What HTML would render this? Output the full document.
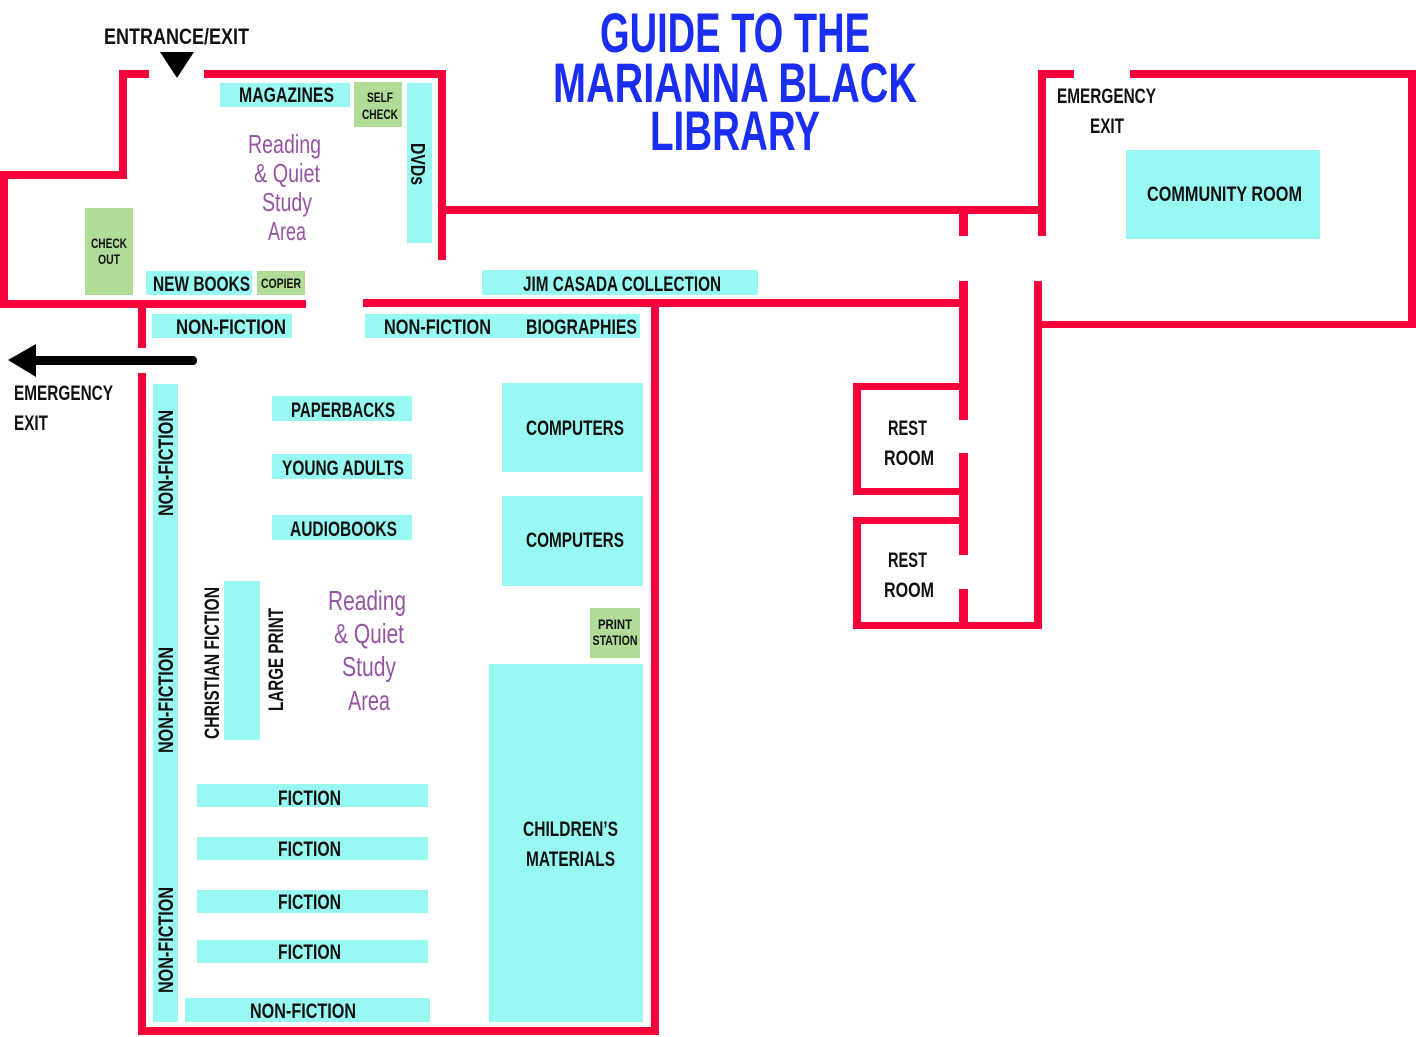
<!DOCTYPE html>
<html><head><meta charset="utf-8"><style>
html,body{margin:0;padding:0;background:#fff;}
svg{display:block;}
text{font-family:"Liberation Sans Narrow","Liberation Sans",sans-serif;font-weight:bold;fill:#111;}
.p{fill:#9456a2;font-weight:normal;}
.t{fill:#1a2df2;}
</style></head><body>
<svg width="1416" height="1037" viewBox="0 0 1416 1037" xmlns="http://www.w3.org/2000/svg">
<g fill="#f5003a">
<rect x="119" y="70" width="30" height="8"/>
<rect x="119" y="70" width="8" height="108"/>
<rect x="0" y="171" width="127" height="8"/>
<rect x="0" y="171" width="8" height="136"/>
<rect x="0" y="300" width="306" height="8"/>
<rect x="204" y="70" width="242" height="8"/>
<rect x="438" y="70" width="8" height="190"/>
<rect x="446" y="206" width="600" height="8"/>
<rect x="959" y="213" width="9" height="23"/>
<rect x="363" y="299" width="605" height="8"/>
<rect x="138" y="300" width="8" height="48"/>
<rect x="138" y="373" width="8" height="662"/>
<rect x="138" y="1027" width="520" height="8"/>
<rect x="651" y="300" width="8" height="735"/>
<rect x="959" y="281" width="9" height="139"/>
<rect x="959" y="453" width="9" height="102"/>
<rect x="959" y="589" width="9" height="40"/>
<rect x="1034" y="281" width="8" height="348"/>
<rect x="959" y="622" width="83" height="7"/>
<rect x="853" y="383" width="115" height="7"/>
<rect x="853" y="383" width="8" height="112"/>
<rect x="853" y="488" width="107" height="7"/>
<rect x="853" y="517" width="115" height="7"/>
<rect x="853" y="517" width="8" height="112"/>
<rect x="853" y="622" width="107" height="7"/>
<rect x="1038" y="70" width="36" height="8"/>
<rect x="1130" y="70" width="286" height="8"/>
<rect x="1408" y="70" width="8" height="258"/>
<rect x="1038" y="70" width="8" height="166"/>
<rect x="1034" y="321" width="382" height="7"/>
</g>
<g fill="#98f8f2">
<rect x="220" y="83" width="130" height="24"/>
<rect x="407" y="83" width="25" height="160"/>
<rect x="146" y="271" width="106" height="24"/>
<rect x="152" y="314" width="140" height="24"/>
<rect x="365" y="314" width="275" height="24"/>
<rect x="482" y="270" width="276" height="25"/>
<rect x="153" y="384" width="25" height="638"/>
<rect x="272" y="396" width="140" height="25"/>
<rect x="272" y="454" width="140" height="25"/>
<rect x="272" y="515" width="140" height="25"/>
<rect x="502" y="383" width="141" height="89"/>
<rect x="502" y="496" width="141" height="90"/>
<rect x="489" y="664" width="154" height="358"/>
<rect x="224" y="581" width="36" height="159"/>
<rect x="197" y="784" width="231" height="23"/>
<rect x="197" y="837" width="231" height="23"/>
<rect x="197" y="890" width="231" height="23"/>
<rect x="197" y="940" width="231" height="23"/>
<rect x="185" y="998" width="245" height="24"/>
<rect x="1126" y="150" width="194" height="89"/>
</g>
<g fill="#b0dc98">
<rect x="354" y="82" width="48" height="45"/>
<rect x="85" y="208" width="48" height="87"/>
<rect x="257" y="271" width="48" height="24"/>
<rect x="590" y="608" width="50" height="50"/>
</g>
<polygon points="160,52 194,52 177,78" fill="#000"/>
<rect x="30" y="356" width="167" height="9" rx="4" fill="#000"/>
<polygon points="8,360 36,344 36,377" fill="#000"/>
<text class="t" x="735" y="52" font-size="56" text-anchor="middle" textLength="270" lengthAdjust="spacingAndGlyphs">GUIDE TO THE</text>
<text class="t" x="735" y="102" font-size="56" text-anchor="middle" textLength="364" lengthAdjust="spacingAndGlyphs">MARIANNA BLACK</text>
<text class="t" x="735" y="150" font-size="56" text-anchor="middle" textLength="170" lengthAdjust="spacingAndGlyphs">LIBRARY</text>
<g font-size="22">
<text x="104" y="44" textLength="145" lengthAdjust="spacingAndGlyphs">ENTRANCE/EXIT</text>
<text x="14" y="400" font-size="21" textLength="99" lengthAdjust="spacingAndGlyphs">EMERGENCY</text>
<text x="14" y="430" font-size="21" textLength="34" lengthAdjust="spacingAndGlyphs">EXIT</text>
<text x="1057" y="103" font-size="21" textLength="99" lengthAdjust="spacingAndGlyphs">EMERGENCY</text>
<text x="1090" y="133" font-size="21" textLength="34" lengthAdjust="spacingAndGlyphs">EXIT</text>
<text x="239" y="102" font-size="21" textLength="95" lengthAdjust="spacingAndGlyphs">MAGAZINES</text>
<text x="153" y="291" font-size="21" textLength="97" lengthAdjust="spacingAndGlyphs">NEW BOOKS</text>
<text x="176" y="334" font-size="21" textLength="110" lengthAdjust="spacingAndGlyphs">NON-FICTION</text>
<text x="384" y="334" font-size="21" textLength="107" lengthAdjust="spacingAndGlyphs">NON-FICTION</text>
<text x="526" y="334" font-size="21" textLength="111" lengthAdjust="spacingAndGlyphs">BIOGRAPHIES</text>
<text x="523" y="291" font-size="21" textLength="198" lengthAdjust="spacingAndGlyphs">JIM CASADA COLLECTION</text>
<text x="291" y="417" font-size="21" textLength="104" lengthAdjust="spacingAndGlyphs">PAPERBACKS</text>
<text x="282" y="475" font-size="21" textLength="122" lengthAdjust="spacingAndGlyphs">YOUNG ADULTS</text>
<text x="290" y="536" font-size="21" textLength="107" lengthAdjust="spacingAndGlyphs">AUDIOBOOKS</text>
<text x="526" y="435" font-size="21" textLength="98" lengthAdjust="spacingAndGlyphs">COMPUTERS</text>
<text x="526" y="547" font-size="21" textLength="98" lengthAdjust="spacingAndGlyphs">COMPUTERS</text>
<text x="523" y="836" font-size="21" textLength="95" lengthAdjust="spacingAndGlyphs">CHILDREN’S</text>
<text x="526" y="866" font-size="21" textLength="89" lengthAdjust="spacingAndGlyphs">MATERIALS</text>
<text x="278" y="805" font-size="21" textLength="63" lengthAdjust="spacingAndGlyphs">FICTION</text>
<text x="278" y="856" font-size="21" textLength="63" lengthAdjust="spacingAndGlyphs">FICTION</text>
<text x="278" y="909" font-size="21" textLength="63" lengthAdjust="spacingAndGlyphs">FICTION</text>
<text x="278" y="959" font-size="21" textLength="63" lengthAdjust="spacingAndGlyphs">FICTION</text>
<text x="250" y="1018" font-size="21" textLength="106" lengthAdjust="spacingAndGlyphs">NON-FICTION</text>
<text x="1147" y="201" font-size="21" textLength="155" lengthAdjust="spacingAndGlyphs">COMMUNITY ROOM</text>
<text x="888" y="435" font-size="21" textLength="39" lengthAdjust="spacingAndGlyphs">REST</text>
<text x="884" y="465" font-size="21" textLength="50" lengthAdjust="spacingAndGlyphs">ROOM</text>
<text x="888" y="567" font-size="21" textLength="39" lengthAdjust="spacingAndGlyphs">REST</text>
<text x="884" y="597" font-size="21" textLength="50" lengthAdjust="spacingAndGlyphs">ROOM</text>
</g>
<g font-size="14" text-anchor="middle">
<text x="380" y="102" textLength="26" lengthAdjust="spacingAndGlyphs">SELF</text>
<text x="380" y="119" textLength="36" lengthAdjust="spacingAndGlyphs">CHECK</text>
<text x="109" y="248" textLength="36" lengthAdjust="spacingAndGlyphs">CHECK</text>
<text x="109" y="264" textLength="22" lengthAdjust="spacingAndGlyphs">OUT</text>
<text x="281" y="288" textLength="40" lengthAdjust="spacingAndGlyphs">COPIER</text>
<text x="615" y="629" textLength="34" lengthAdjust="spacingAndGlyphs">PRINT</text>
<text x="615" y="645" textLength="45" lengthAdjust="spacingAndGlyphs">STATION</text>
</g>
<text font-size="20" transform="translate(411,143) rotate(90)" textLength="42" lengthAdjust="spacingAndGlyphs">DVDs</text>
<g font-size="21">
<text transform="translate(173,516) rotate(-90)" textLength="106" lengthAdjust="spacingAndGlyphs">NON-FICTION</text>
<text transform="translate(173,753) rotate(-90)" textLength="106" lengthAdjust="spacingAndGlyphs">NON-FICTION</text>
<text transform="translate(173,993) rotate(-90)" textLength="106" lengthAdjust="spacingAndGlyphs">NON-FICTION</text>
<text transform="translate(219,739) rotate(-90)" textLength="152" lengthAdjust="spacingAndGlyphs">CHRISTIAN FICTION</text>
<text transform="translate(283,711) rotate(-90)" textLength="103" lengthAdjust="spacingAndGlyphs">LARGE PRINT</text>
</g>
<g font-size="26">
<text class="p" x="248" y="153" textLength="73" lengthAdjust="spacingAndGlyphs">Reading</text>
<text class="p" x="254" y="182" textLength="66" lengthAdjust="spacingAndGlyphs">&amp; Quiet</text>
<text class="p" x="262" y="211" textLength="50" lengthAdjust="spacingAndGlyphs">Study</text>
<text class="p" x="268" y="240" textLength="38" lengthAdjust="spacingAndGlyphs">Area</text>
</g>
<g font-size="28">
<text class="p" x="328" y="610" textLength="78" lengthAdjust="spacingAndGlyphs">Reading</text>
<text class="p" x="334" y="643" textLength="70" lengthAdjust="spacingAndGlyphs">&amp; Quiet</text>
<text class="p" x="342" y="676" textLength="54" lengthAdjust="spacingAndGlyphs">Study</text>
<text class="p" x="348" y="710" textLength="42" lengthAdjust="spacingAndGlyphs">Area</text>
</g>
</svg>
</body></html>
